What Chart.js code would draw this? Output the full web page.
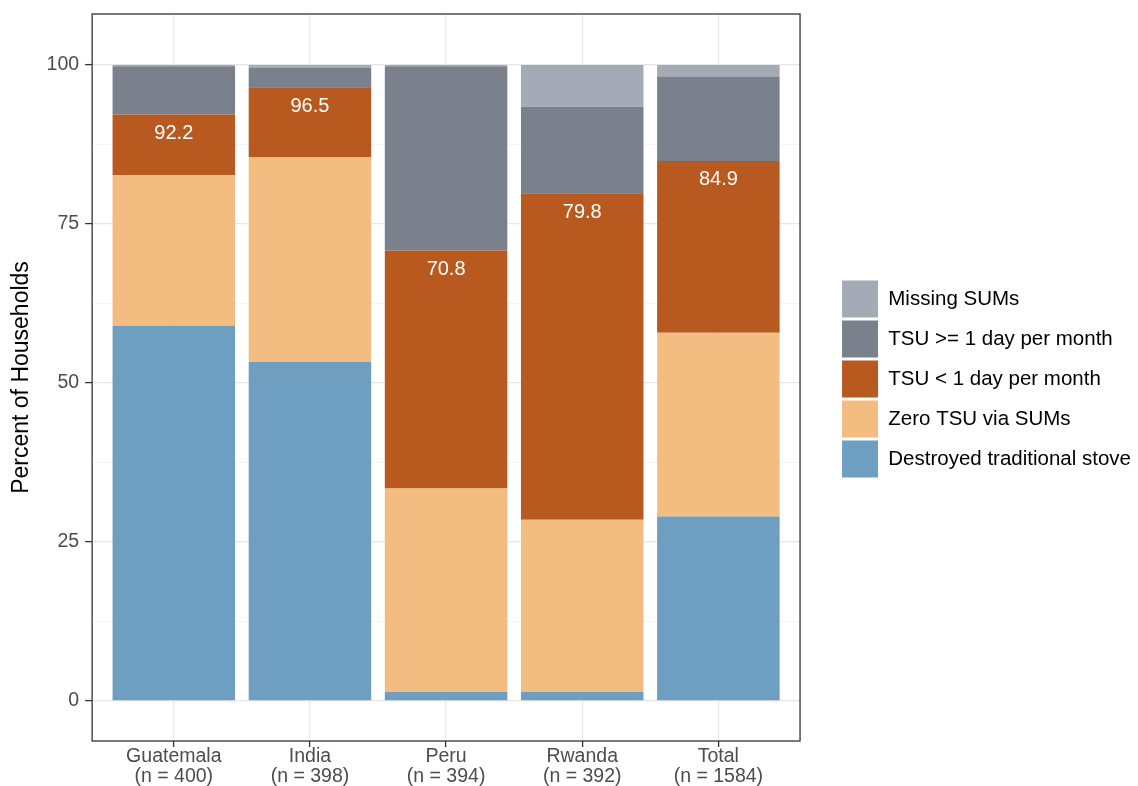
<!DOCTYPE html>
<html>
<head>
<meta charset="utf-8">
<script src="https://cdn.jsdelivr.net/npm/chart.js@4.4.1/dist/chart.umd.min.js"></script>
<style>
  html, body { margin: 0; padding: 0; background: #fff; }
  #wrap { width: 1138px; height: 786px; }
</style>
</head>
<body>
<div id="wrap"><canvas id="chart" width="1138" height="786"></canvas></div>
<script>
// Household stove use by country, stacked percent bars

const countries = ["Guatemala", "India", "Peru", "Rwanda", "Total"];
const sampleSizes = [400, 398, 394, 392, 1584];

// segment heights, bottom to top (percent)
const destroyed = [59.0, 53.3, 1.4, 1.4, 29.0];
const zeroTsu = [23.7, 32.2, 32.0, 27.1, 28.9];
const tsuUnder1 = [9.5, 11.0, 37.4, 51.3, 27.0];
const tsuOver1 = [7.6, 3.0, 29.0, 13.6, 13.2];
const missingSums = [0.2, 0.5, 0.2, 6.6, 1.9];

const yTicks = [0, 12.5, 25, 37.5, 50, 62.5, 75, 87.5, 100];

const FONT = "'Liberation Sans', Arial, sans-serif";

function toPoints(values) {
  return values.map((v, i) => ({ x: i, y: v }));
}

function isMajor(ctx) {
  return ctx.tick && ctx.tick.value % 25 === 0;
}

// white labels with the cumulative share, inside the orange segment
const sumLabels = {
  id: "sumLabels",
  afterDatasetsDraw(chart) {
    const ctx = chart.ctx;
    const xs = chart.scales.x;
    const ys = chart.scales.y;
    ctx.save();
    ctx.fillStyle = "#ffffff";
    ctx.font = "20px " + FONT;
    ctx.textAlign = "center";
    ctx.textBaseline = "middle";
    countries.forEach((c, i) => {
      const cum = destroyed[i] + zeroTsu[i] + tsuUnder1[i];
      ctx.fillText(cum.toFixed(1), xs.getPixelForValue(i), ys.getPixelForValue(cum) + 19);
    });
    ctx.restore();
  },
};

// panel border like theme_bw
const panelBorder = {
  id: "panelBorder",
  afterDraw(chart) {
    const a = chart.chartArea;
    const ctx = chart.ctx;
    ctx.save();
    ctx.strokeStyle = "#333333";
    ctx.lineWidth = 1.3;
    ctx.strokeRect(a.left, a.top, a.right - a.left, a.bottom - a.top);
    ctx.restore();
  },
};

// move the legend away from the panel and up to its middle
const legendShift = {
  id: "legendShift",
  afterLayout(chart) {
    const lg = chart.legend;
    lg.left += 39;
    lg.right += 51;
    lg.top -= 21;
    lg.bottom -= 21;
  },
};

new Chart(document.getElementById("chart"), {
  type: "bar",
  data: {
    datasets: [
      { label: "Destroyed traditional stove", data: toPoints(destroyed), backgroundColor: "#6e9fc0" },
      { label: "Zero TSU via SUMs", data: toPoints(zeroTsu), backgroundColor: "#f3bd82" },
      { label: "TSU < 1 day per month", data: toPoints(tsuUnder1), backgroundColor: "#b85920" },
      { label: "TSU >= 1 day per month", data: toPoints(tsuOver1), backgroundColor: "#7b818c" },
      { label: "Missing SUMs", data: toPoints(missingSums), backgroundColor: "#a5abb6" },
    ],
  },
  options: {
    responsive: false,
    animation: false,
    devicePixelRatio: 1,
    datasets: {
      bar: { categoryPercentage: 0.9, barPercentage: 1.0, borderWidth: 0 },
    },
    layout: { padding: { top: 14, right: 36, bottom: 0, left: 8 } },
    scales: {
      x: {
        type: "linear",
        stacked: true,
        offset: false,
        min: -0.6,
        max: 4.6,
        afterBuildTicks: (scale) => {
          scale.ticks = countries.map((c, i) => ({ value: i }));
        },
        afterFit: (scale) => {
          scale.height = 45;
        },
        ticks: {
          color: "#4d4d4d",
          font: { family: FONT, size: 19.5, lineHeight: 1.0 },
          padding: 0,
          autoSkip: false,
          maxRotation: 0,
          callback: (v) => [countries[v], "(n = " + sampleSizes[v] + ")"],
        },
        grid: { offset: false, color: "#ebebeb", lineWidth: 1.2, tickLength: 6, tickColor: "#333333", tickWidth: 1.3 },
        border: { display: false },
      },
      y: {
        stacked: true,
        min: -6.3,
        max: 108,
        afterBuildTicks: (scale) => {
          scale.ticks = yTicks.map((v) => ({ value: v }));
        },
        afterFit: (scale) => {
          scale.paddingTop = 0;
          scale.paddingBottom = 0;
        },
        ticks: {
          color: "#4d4d4d",
          font: { family: FONT, size: 19.5 },
          padding: 6,
          callback: (v) => (v % 25 === 0 ? String(v) : ""),
        },
        grid: {
          color: (ctx) => (isMajor(ctx) ? "#e6e6e6" : "#f3f3f3"),
          lineWidth: (ctx) => (isMajor(ctx) ? 1.2 : 0.8),
          tickLength: 7,
          tickColor: (ctx) => (isMajor(ctx) ? "#333333" : "rgba(0,0,0,0)"),
          tickWidth: 1.3,
        },
        border: { display: false },
        title: {
          display: true,
          text: "Percent of Households",
          color: "#000000",
          font: { family: FONT, size: 23 },
          padding: { top: 0, bottom: 5 },
        },
      },
    },
    plugins: {
      tooltip: { enabled: false },
      legend: {
        position: "right",
        align: "center",
        reverse: true,
        maxWidth: 320,
        labels: {
          color: "#000000",
          font: { family: FONT, size: 20.5 },
          boxWidth: 36,
          boxHeight: 37,
          padding: 3,
        },
      },
    },
  },
  plugins: [sumLabels, panelBorder, legendShift],
});
</script>
</body>
</html>
